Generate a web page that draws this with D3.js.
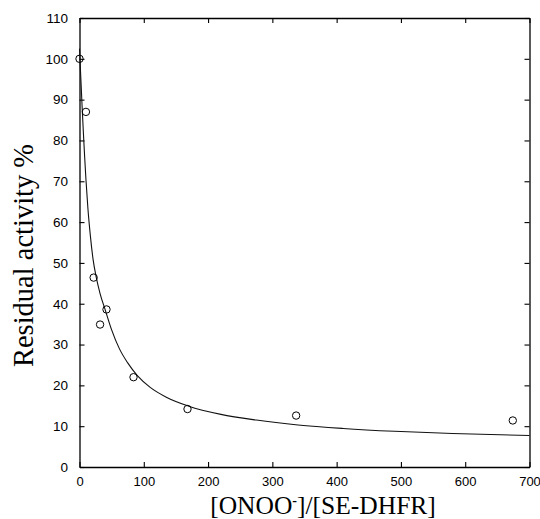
<!DOCTYPE html>
<html>
<head>
<meta charset="utf-8">
<script src="https://cdn.jsdelivr.net/npm/d3@7"></script>
<style>
  body { margin: 0; background: #fff; }
  svg { display: block; }
</style>
</head>
<body>
<svg id="chart" width="540" height="519"></svg>
<script>
// measured points (ratio, residual activity %)
const ratioPts = [0, 10, 22, 32, 42, 84, 168, 337, 674];
const activityPts = [100, 87, 46.4, 34.9, 38.6, 22, 14.2, 12.6, 11.4];

// fitted curve
const curveX = [0, 2, 4, 6, 8, 10, 13, 17, 21, 26, 32, 40, 50, 62, 75, 90, 110, 135, 170, 220, 275, 340, 410, 490, 580, 700];
const curveY = [102.5, 95.5, 88.5, 82, 76, 70.5, 63.5, 56.5, 51, 46.5, 42.5, 38.5, 33.6, 29, 25.5, 22.4, 19.5, 17.1, 14.9, 12.9, 11.5, 10.3, 9.45, 8.75, 8.2, 7.7];

const xTicks = [0, 100, 200, 300, 400, 500, 600, 700];
const yTicks = [0, 10, 20, 30, 40, 50, 60, 70, 80, 90, 100, 110];

let svg = d3.select("#chart");
let margin = {top: 18, left: 79.5},
    width = 450,
    height = 449;

let x = d3.scaleLinear().domain([0, 700]).range([0, width]),
    y = d3.scaleLinear().domain([0, 110]).range([height, 0]);

let g = svg.append("g").attr("transform", `translate(${margin.left},${margin.top})`);

// axes, ticks pointing inward on all four sides
g.append("g")
    .attr("transform", `translate(0,${height})`)
    .call(d3.axisBottom(x).tickValues(xTicks).tickSizeInner(-5).tickSizeOuter(0).tickPadding(10));
g.append("g")
    .attr("class", "axis-y")
    .call(d3.axisLeft(y).tickValues(yTicks).tickSizeInner(-5).tickSizeOuter(0).tickPadding(11.5));
g.append("g")
    .call(d3.axisTop(x).tickValues(xTicks).tickSizeInner(-5).tickSizeOuter(0).tickFormat(""));
g.append("g")
    .attr("transform", `translate(${width},0)`)
    .call(d3.axisRight(y).tickValues(yTicks).tickSizeInner(-5).tickSizeOuter(0).tickFormat(""));

g.selectAll(".domain").attr("stroke", "#000").attr("stroke-width", 1.3);
g.selectAll(".tick line").attr("stroke", "#000").attr("stroke-width", 1.1);
g.selectAll(".tick text")
    .attr("fill", "#000")
    .style("font-family", "'Liberation Sans', Arial, sans-serif")
    .style("font-size", "13px");
g.selectAll(".axis-y .tick text").style("font-size", "13.5px");

// fitted curve
let line = d3.line()
    .x((d, i) => x(curveX[i]))
    .y(d => y(d))
    .curve(d3.curveMonotoneX);

g.append("path")
    .datum(curveY)
    .attr("fill", "none")
    .attr("stroke", "#111")
    .attr("stroke-width", 1.1)
    .attr("d", line);

// open circle markers
g.selectAll(".pt")
    .data(activityPts)
    .enter().append("circle")
    .attr("class", "pt")
    .attr("cx", (d, i) => x(ratioPts[i]))
    .attr("cy", d => y(d))
    .attr("r", 3.7)
    .attr("fill", "none")
    .attr("stroke", "#000")
    .attr("stroke-width", 1);

// axis titles
let xTitle = svg.append("text")
    .attr("x", 323)
    .attr("y", 513.5)
    .attr("text-anchor", "middle")
    .style("font-family", "'Liberation Serif', 'Times New Roman', serif")
    .style("font-size", "25.5px")
    .attr("fill", "#000");
xTitle.append("tspan").text("[ONOO");
xTitle.append("tspan").attr("dy", -9).style("font-size", "14px").style("font-weight", "bold").text("-");
xTitle.append("tspan").attr("dy", 9).text("]/[SE-DHFR]");

svg.append("text")
    .attr("transform", "translate(33,255.5) rotate(-90)")
    .attr("text-anchor", "middle")
    .style("font-family", "'Liberation Serif', 'Times New Roman', serif")
    .style("font-size", "28.5px")
    .attr("fill", "#000")
    .text("Residual activity %");
</script>
</body>
</html>
